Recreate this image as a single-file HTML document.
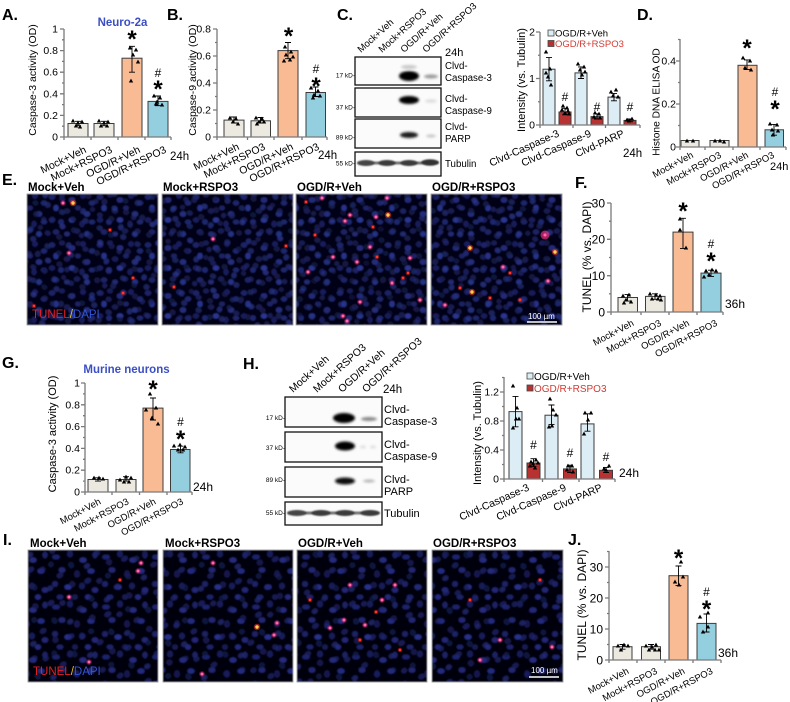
<!DOCTYPE html>
<html><head><meta charset="utf-8">
<style>
html,body{margin:0;padding:0;background:#fff;}
svg{display:block;font-family:"Liberation Sans",Arial,sans-serif;}
</style></head><body>
<svg width="790" height="702" viewBox="0 0 790 702" xmlns="http://www.w3.org/2000/svg" xmlns:xlink="http://www.w3.org/1999/xlink">
<defs>
<path id="t" d="M0,-2.4L2.2,1.5L-2.2,1.5Z" fill="#000"/>
<filter id="bl" x="-50%" y="-100%" width="200%" height="300%"><feGaussianBlur stdDeviation="1.3"/></filter>
<filter id="bs" x="-50%" y="-100%" width="200%" height="300%"><feGaussianBlur stdDeviation="0.7"/></filter>
<filter id="mb" x="0" y="0" width="100%" height="100%"><feGaussianBlur stdDeviation="0.7"/></filter>
<g id="dp"><circle r="2.8" fill="#c8207a" opacity=".55"/><circle r="1.5" fill="#ff6aa0"/></g>
<g id="dr"><circle r="2.3" fill="#d01818" opacity=".6"/><circle r="1.2" fill="#ff3a2a"/></g>
<g id="dy"><circle r="3.2" fill="#e03020" opacity=".65"/><circle r="1.7" fill="#ffd050"/></g>
<pattern id="pE1" width="48" height="48" patternUnits="userSpaceOnUse">
<rect width="48" height="48" fill="#050412"/>
<ellipse cx="4" cy="5" rx="3.2" ry="2.7" fill="#1c2468"/>
<ellipse cx="14" cy="3" rx="2.9" ry="2.5" fill="#161c56"/>
<ellipse cx="24" cy="8" rx="3.3" ry="2.9" fill="#222c78"/>
<ellipse cx="35" cy="4" rx="2.9" ry="2.9" fill="#181f5e"/>
<ellipse cx="44" cy="11" rx="3.1" ry="2.6" fill="#1e266c"/>
<ellipse cx="8" cy="16" rx="2.7" ry="3.2" fill="#26328a"/>
<ellipse cx="19" cy="19" rx="3.2" ry="2.7" fill="#141a50"/>
<ellipse cx="30" cy="16" rx="2.9" ry="2.4" fill="#1c2466"/>
<ellipse cx="39" cy="22" rx="3.2" ry="2.9" fill="#232d7a"/>
<ellipse cx="4" cy="28" rx="3.1" ry="2.7" fill="#181f5c"/>
<ellipse cx="13" cy="30" rx="2.9" ry="2.9" fill="#1f286e"/>
<ellipse cx="24" cy="28" rx="3.2" ry="2.7" fill="#2a3690"/>
<ellipse cx="34" cy="32" rx="2.7" ry="3.2" fill="#171e5a"/>
<ellipse cx="44" cy="30" rx="3.1" ry="2.4" fill="#1e266c"/>
<ellipse cx="8" cy="40" rx="3.2" ry="2.7" fill="#1a2264"/>
<ellipse cx="19" cy="42" rx="2.9" ry="2.4" fill="#202a72"/>
<ellipse cx="29" cy="39" rx="3.1" ry="2.7" fill="#151b52"/>
<ellipse cx="39" cy="42" rx="2.9" ry="2.9" fill="#243084"/>
</pattern>
<pattern id="pE2" width="41" height="37" patternUnits="userSpaceOnUse" patternTransform="rotate(23) translate(7,5)">
<ellipse cx="5" cy="6" rx="2.9" ry="2.5" fill="#1e276c"/>
<ellipse cx="17" cy="5" rx="3" ry="2.7" fill="#161c52"/>
<ellipse cx="29" cy="9" rx="2.7" ry="3" fill="#27348a"/>
<ellipse cx="37" cy="3.5" rx="2.4" ry="2.3" fill="#19205e"/>
<ellipse cx="10" cy="18" rx="3.1" ry="2.6" fill="#202a70"/>
<ellipse cx="23" cy="20" rx="2.9" ry="2.5" fill="#141a4e"/>
<ellipse cx="35" cy="17" rx="3" ry="2.9" fill="#222d78"/>
<ellipse cx="4" cy="29" rx="2.8" ry="3.1" fill="#1b2464"/>
<ellipse cx="16" cy="31" rx="3" ry="2.6" fill="#2a3894"/>
<ellipse cx="28" cy="30" rx="2.9" ry="2.7" fill="#181f58"/>
<ellipse cx="37" cy="32" rx="2.5" ry="2.5" fill="#1f286c"/>
</pattern>
<pattern id="pI1" width="50" height="50" patternUnits="userSpaceOnUse">
<rect width="50" height="50" fill="#040310"/>
<ellipse cx="6" cy="7" rx="3.8" ry="2.4" fill="#1e246c"/>
<ellipse cx="20" cy="4" rx="3" ry="3.4" fill="#171c58"/>
<ellipse cx="33" cy="10" rx="3.6" ry="2.6" fill="#252c7c"/>
<ellipse cx="45" cy="5" rx="2.6" ry="3.2" fill="#1b2064"/>
<ellipse cx="12" cy="20" rx="3.4" ry="2.8" fill="#20266f"/>
<ellipse cx="27" cy="24" rx="2.8" ry="3.6" fill="#151950"/>
<ellipse cx="41" cy="21" rx="3.6" ry="2.6" fill="#232a7e"/>
<ellipse cx="5" cy="34" rx="3" ry="3" fill="#1a2062"/>
<ellipse cx="18" cy="37" rx="3.6" ry="2.6" fill="#283088"/>
<ellipse cx="32" cy="36" rx="3" ry="3.2" fill="#181d56"/>
<ellipse cx="45" cy="40" rx="3.2" ry="2.8" fill="#202874"/>
<ellipse cx="10" cy="47" rx="3.4" ry="2.4" fill="#1c2268"/>
<ellipse cx="25" cy="47" rx="2.8" ry="2.6" fill="#161b52"/>
<ellipse cx="38" cy="47" rx="3" ry="2.6" fill="#242b7c"/>
</pattern>
<pattern id="pI2" width="43" height="39" patternUnits="userSpaceOnUse" patternTransform="rotate(-31) translate(5,9)">
<ellipse cx="8" cy="8" rx="3.4" ry="2.6" fill="#20266f"/>
<ellipse cx="23" cy="5" rx="2.8" ry="3.2" fill="#171c56"/>
<ellipse cx="36" cy="14" rx="3.2" ry="2.6" fill="#252c7e"/>
<ellipse cx="14" cy="22" rx="3" ry="3" fill="#1b2064"/>
<ellipse cx="29" cy="27" rx="3.6" ry="2.6" fill="#222878"/>
<ellipse cx="6" cy="33" rx="2.8" ry="2.8" fill="#151a50"/>
<ellipse cx="39" cy="33" rx="3" ry="2.6" fill="#20266f"/>
</pattern>
</defs>
<rect width="790" height="702" fill="#fff"/>

<!-- ================= PANEL A ================= -->
<text x="2" y="20" font-size="16" font-weight="bold">A.</text>
<text x="122.5" y="26" font-size="11.5" font-weight="bold" fill="#3b4fc4" text-anchor="middle">Neuro-2a</text>
<text transform="translate(33,80) rotate(-90)" text-anchor="middle" dominant-baseline="central" font-size="10.5">Caspase-3 activity (OD)</text>
<g stroke="#3c3c3c" stroke-width="1">
<rect x="68" y="123.5" width="20" height="13.5" fill="#ebe9e0"/>
<rect x="94" y="123.5" width="20" height="13.5" fill="#ebe9e0"/>
<rect x="122" y="58.2" width="20" height="78.8" fill="#f9bb94"/>
<rect x="148" y="101.4" width="20" height="35.6" fill="#94cfdf"/>
</g>
<g stroke="#7a7a7a" stroke-width="1.3" fill="none">
<path d="M64,29V137H171"/>
<path d="M60,137H64M60,115.4H64M60,93.8H64M60,72.2H64M60,50.6H64M60,29H64"/>
<path d="M62,126.2H64M62,104.6H64M62,83H64M62,61.4H64M62,39.8H64"/>
<path d="M64,137V140M91,137V140M118,137V140M145,137V140M171,137V140"/>
</g>
<g text-anchor="end" font-size="10.5">
<text x="58" y="140.5">0</text><text x="58" y="118.9">0.2</text><text x="58" y="97.3">0.4</text><text x="58" y="75.7">0.6</text><text x="58" y="54.1">0.8</text><text x="58" y="32.5">1</text>
</g>
<g stroke="#000" stroke-width="0.9" fill="none">
<path d="M78,125.7V121.3M75,125.7H81M75,121.3H81"/>
<path d="M104,125.7V121.3M101,125.7H107M101,121.3H107"/>
<path d="M132,72.2V46.3M129,72.2H135M129,46.3H135"/>
<path d="M158,105.7V96M155,105.7H161M155,96H161"/>
</g>
<use href="#t" x="73" y="121"/><use href="#t" x="78" y="123"/><use href="#t" x="82" y="122"/><use href="#t" x="76" y="126"/><use href="#t" x="80" y="127"/>
<use href="#t" x="99" y="121"/><use href="#t" x="104" y="123"/><use href="#t" x="108" y="122"/><use href="#t" x="101" y="126"/><use href="#t" x="107" y="126"/>
<use href="#t" x="130" y="48"/><use href="#t" x="136" y="50"/><use href="#t" x="133" y="55"/><use href="#t" x="138" y="62"/><use href="#t" x="131" y="81"/>
<use href="#t" x="154" y="96"/><use href="#t" x="160" y="98"/><use href="#t" x="157" y="102"/><use href="#t" x="162" y="105"/><use href="#t" x="156" y="104"/>
<g text-anchor="middle" font-weight="bold">
<text x="132" y="47" font-size="24">*</text>
<text x="158" y="77" font-size="12" font-weight="normal">#</text>
<text x="158" y="97" font-size="24">*</text>
</g>
<g font-size="10.5" text-anchor="end">
<text transform="translate(87,152) rotate(-26)">Mock+Veh</text>
<text transform="translate(113,152) rotate(-26)">Mock+RSPO3</text>
<text transform="translate(141,152) rotate(-26)">OGD/R+Veh</text>
<text transform="translate(167,152) rotate(-26)">OGD/R+RSPO3</text>
</g>
<text x="170" y="160" font-size="11.5">24h</text>

<!-- ================= PANEL B ================= -->
<text x="167" y="20" font-size="16" font-weight="bold">B.</text>
<text transform="translate(193,80) rotate(-90)" text-anchor="middle" dominant-baseline="central" font-size="10.5">Caspase-9 activity (OD)</text>
<g stroke="#3c3c3c" stroke-width="1">
<rect x="224" y="120.1" width="20" height="16.9" fill="#ebe9e0"/>
<rect x="251" y="120.8" width="19.5" height="16.2" fill="#ebe9e0"/>
<rect x="278" y="50.6" width="20" height="86.4" fill="#f9bb94"/>
<rect x="306" y="92.5" width="19.5" height="44.5" fill="#94cfdf"/>
</g>
<g stroke="#7a7a7a" stroke-width="1.3" fill="none">
<path d="M217,29V137H327"/>
<path d="M213,137H217M213,110H217M213,83H217M213,56H217M213,29H217"/>
<path d="M215,123.5H217M215,96.5H217M215,69.5H217M215,42.5H217"/>
<path d="M217,137V140M247.5,137V140M274,137V140M302,137V140M327,137V140"/>
</g>
<g text-anchor="end" font-size="10.5">
<text x="211" y="140.5">0</text><text x="211" y="113.5">0.2</text><text x="211" y="86.5">0.4</text><text x="211" y="59.5">0.6</text><text x="211" y="32.5">0.8</text>
</g>
<g stroke="#000" stroke-width="0.9" fill="none">
<path d="M234,123V117M231,123H237M231,117H237"/>
<path d="M260.5,123V117.5M257.5,123H263.5M257.5,117.5H263.5"/>
<path d="M288,58.7V42.5M285,58.7H291M285,42.5H291"/>
<path d="M315.5,96.5V87M312.5,96.5H318.5M312.5,87H318.5"/>
</g>
<use href="#t" x="230" y="118"/><use href="#t" x="236" y="119"/><use href="#t" x="233" y="122"/><use href="#t" x="238" y="124"/>
<use href="#t" x="256" y="118"/><use href="#t" x="262" y="119"/><use href="#t" x="259" y="122"/><use href="#t" x="264" y="122"/><use href="#t" x="257" y="124"/>
<use href="#t" x="285" y="47"/><use href="#t" x="291" y="52"/><use href="#t" x="286" y="55"/><use href="#t" x="293" y="57"/><use href="#t" x="290" y="60"/><use href="#t" x="284" y="61"/>
<use href="#t" x="311" y="88"/><use href="#t" x="318" y="91"/><use href="#t" x="314" y="95"/><use href="#t" x="320" y="96"/><use href="#t" x="313" y="98"/>
<g text-anchor="middle" font-weight="bold">
<text x="288.5" y="44" font-size="24">*</text>
<text x="316" y="73" font-size="12" font-weight="normal">#</text>
<text x="316" y="94" font-size="24">*</text>
</g>
<g font-size="10.5" text-anchor="end">
<text transform="translate(240,149) rotate(-26)">Mock+Veh</text>
<text transform="translate(266,149) rotate(-26)">Mock+RSPO3</text>
<text transform="translate(294,149) rotate(-26)">OGD/R+Veh</text>
<text transform="translate(320,149) rotate(-26)">OGD/R+RSPO3</text>
</g>
<text x="318" y="159" font-size="11.5">24h</text>

<!-- ================= PANEL C blot ================= -->
<text x="337" y="20" font-size="16" font-weight="bold">C.</text>
<g font-size="9.5">
<text transform="translate(361,53) rotate(-42)">Mock+Veh</text>
<text transform="translate(382,53) rotate(-42)">Mock+RSPO3</text>
<text transform="translate(404,53) rotate(-42)">OGD/R+Veh</text>
<text transform="translate(426,53) rotate(-42)">OGD/R+RSPO3</text>
</g>
<text x="445" y="56" font-size="11">24h</text>
<g stroke="#111" stroke-width="1.3" fill="#fbfbfb">
<rect x="355" y="57" width="86" height="28"/>
<rect x="355" y="88" width="86" height="29"/>
<rect x="355" y="119" width="86" height="29"/>
<rect x="355" y="152" width="86" height="24"/>
</g>
<g filter="url(#bl)">
<ellipse cx="409" cy="67" rx="8" ry="2" fill="#c8c8c8"/>
<ellipse cx="409" cy="76" rx="10" ry="5" fill="#000"/>
<ellipse cx="431" cy="76.5" rx="7" ry="2" fill="#999"/>
<ellipse cx="409" cy="100" rx="10" ry="4" fill="#000"/>
<ellipse cx="431" cy="101" rx="6" ry="1.8" fill="#ddd"/>
<ellipse cx="409" cy="135" rx="9" ry="3" fill="#1a1a1a"/>
<ellipse cx="431" cy="136" rx="5" ry="1.5" fill="#c4c4c4"/>
</g>
<g filter="url(#bs)">
<rect x="358" y="161.5" width="80" height="3" fill="#777"/>
<ellipse cx="366" cy="163" rx="9" ry="3" fill="#444"/>
<ellipse cx="387" cy="163" rx="9" ry="3" fill="#3a3a3a"/>
<ellipse cx="409" cy="163" rx="9" ry="3" fill="#3a3a3a"/>
<ellipse cx="430" cy="162.5" rx="9" ry="3.2" fill="#333"/>
</g>
<g font-size="9.7">
<text x="445" y="69">Clvd-</text><text x="445" y="81">Caspase-3</text>
<text x="445" y="102">Clvd-</text><text x="445" y="114">Caspase-9</text>
<text x="445" y="130">Clvd-</text><text x="445" y="142">PARP</text>
<text x="445" y="167">Tubulin</text>
</g>
<g font-size="6.5" text-anchor="end">
<text x="355" y="77.5">17 kD-</text>
<text x="355" y="109.5">37 kD-</text>
<text x="355" y="139.5">89 kD-</text>
<text x="355" y="165.5">55 kD-</text>
</g>

<!-- ================= PANEL C chart ================= -->
<text transform="translate(522,80) rotate(-90)" text-anchor="middle" dominant-baseline="central" font-size="11">Intensity (vs. Tubulin)</text>
<g stroke="#3c3c3c" stroke-width="1">
<rect x="543" y="69.2" width="12" height="55.8" fill="#dcedf5"/>
<rect x="559" y="112" width="12" height="13" fill="#b73230"/>
<rect x="575" y="72.9" width="12" height="52.1" fill="#dcedf5"/>
<rect x="591" y="116.6" width="12" height="8.4" fill="#b73230"/>
<rect x="608" y="97.1" width="12" height="27.9" fill="#dcedf5"/>
<rect x="624" y="120.4" width="12" height="4.6" fill="#b73230"/>
</g>
<g stroke="#7a7a7a" stroke-width="1.3" fill="none">
<path d="M540,32V125H640"/>
<path d="M536,125H540M536,78.5H540M536,32H540M538,101.75H540M538,55.25H540"/>
<path d="M540,125V128M573,125V128M605.5,125V128M640,125V128"/>
</g>
<g text-anchor="end" font-size="10.5">
<text x="535" y="128.5">0</text><text x="535" y="82">1</text><text x="535" y="35.5">2</text>
</g>
<g stroke="#000" stroke-width="0.9" fill="none">
<path d="M549,80.8V57.6M546,80.8H552M546,57.6H552"/>
<path d="M565,114.8V108.3M562,114.8H568M562,108.3H568"/>
<path d="M581,78.5V66.9M578,78.5H584M578,66.9H584"/>
<path d="M597,119V113.8M594,119H600M594,113.8H600"/>
<path d="M614,100.8V93.4M611,100.8H617M611,93.4H617"/>
<path d="M630,121.7V119M627,121.7H633M627,119H633"/>
</g>
<use href="#t" x="546" y="52"/><use href="#t" x="550" y="69"/><use href="#t" x="548" y="77"/><use href="#t" x="551" y="85"/><use href="#t" x="546" y="73"/>
<use href="#t" x="563" y="106"/><use href="#t" x="567" y="108"/><use href="#t" x="562" y="110"/><use href="#t" x="568" y="111"/><use href="#t" x="565" y="113"/><use href="#t" x="569" y="114"/>
<use href="#t" x="578" y="64"/><use href="#t" x="584" y="67"/><use href="#t" x="580" y="70"/><use href="#t" x="585" y="72"/><use href="#t" x="582" y="75"/>
<use href="#t" x="595" y="113"/><use href="#t" x="599" y="114"/><use href="#t" x="594" y="117"/><use href="#t" x="600" y="118"/>
<use href="#t" x="611" y="92"/><use href="#t" x="616" y="90"/><use href="#t" x="613" y="96"/><use href="#t" x="618" y="97"/>
<use href="#t" x="627" y="120"/><use href="#t" x="632" y="119"/><use href="#t" x="629" y="121"/>
<g text-anchor="middle" font-size="12">
<text x="565" y="101">#</text><text x="597" y="111">#</text><text x="630" y="111">#</text>
</g>
<rect x="548" y="30" width="6" height="6" fill="#dcedf5" stroke="#444" stroke-width="0.8"/>
<text x="555" y="36.5" font-size="9.5">OGD/R+Veh</text>
<rect x="548" y="40.5" width="6" height="6" fill="#b73230" stroke="#444" stroke-width="0.8"/>
<text x="555" y="47" font-size="9.5" fill="#d23a32">OGD/R+RSPO3</text>
<g font-size="10.5" text-anchor="end">
<text transform="translate(560,136) rotate(-24)">Clvd-Caspase-3</text>
<text transform="translate(592,136) rotate(-24)">Clvd-Caspase-9</text>
<text transform="translate(625,136) rotate(-24)">Clvd-PARP</text>
</g>
<text x="623" y="157" font-size="11.5">24h</text>

<!-- ================= PANEL D ================= -->
<text x="637" y="20" font-size="16" font-weight="bold">D.</text>
<text transform="translate(657,102) rotate(-90)" text-anchor="middle" dominant-baseline="central" font-size="10.2">Histone DNA ELISA OD</text>
<g stroke="#3c3c3c" stroke-width="1">
<rect x="681" y="140.5" width="18" height="6.5" fill="#ebe9e0"/>
<rect x="710" y="140.5" width="19" height="6.5" fill="#ebe9e0"/>
<rect x="738" y="65.3" width="19" height="81.7" fill="#f9bb94"/>
<rect x="765" y="129.8" width="18.5" height="17.2" fill="#94cfdf"/>
</g>
<g stroke="#7a7a7a" stroke-width="1.3" fill="none">
<path d="M680,39V147H786"/>
<path d="M676,147H680M676,104H680M676,61H680M678,125.5H680M678,82.5H680M678,39.5H680"/>
<path d="M680,147V150M705,147V150M733,147V150M760,147V150M786,147V150"/>
</g>
<g text-anchor="end" font-size="10.5">
<text x="676" y="150.5">0</text><text x="676" y="107.5">0.2</text><text x="676" y="64.5">0.4</text>
</g>
<g stroke="#000" stroke-width="0.9" fill="none">
<path d="M747,69.6V59.9M744,69.6H750M744,59.9H750"/>
<path d="M774,135.2V124.4M771,135.2H777M771,124.4H777"/>
</g>
<use href="#t" x="687" y="141"/><use href="#t" x="693" y="141"/>
<use href="#t" x="715" y="141"/><use href="#t" x="720" y="141"/><use href="#t" x="724" y="142"/>
<use href="#t" x="743" y="58"/><use href="#t" x="750" y="61"/><use href="#t" x="745" y="68"/><use href="#t" x="751" y="70"/>
<use href="#t" x="770" y="124"/><use href="#t" x="777" y="125"/><use href="#t" x="772" y="130"/><use href="#t" x="778" y="131"/><use href="#t" x="773" y="135"/>
<g text-anchor="middle" font-weight="bold">
<text x="747" y="56" font-size="24">*</text>
<text x="775" y="96" font-size="12" font-weight="normal">#</text>
<text x="775" y="117" font-size="24">*</text>
</g>
<g font-size="9.5" text-anchor="end">
<text transform="translate(694,157) rotate(-28)">Mock+Veh</text>
<text transform="translate(722,157) rotate(-28)">Mock+RSPO3</text>
<text transform="translate(749,157) rotate(-28)">OGD/R+Veh</text>
<text transform="translate(775,157) rotate(-28)">OGD/R+RSPO3</text>
</g>
<text x="770" y="170" font-size="11">24h</text>

<!-- ================= PANEL E ================= -->
<text x="2" y="185" font-size="16" font-weight="bold">E.</text>
<g font-size="11.5" font-weight="bold">
<text x="28" y="191">Mock+Veh</text>
<text x="163" y="191">Mock+RSPO3</text>
<text x="297" y="191">OGD/R+Veh</text>
<text x="432" y="191">OGD/R+RSPO3</text>
</g>
<g filter="url(#mb)">
<rect x="27" y="194" width="131" height="131" fill="url(#pE1)"/>
<rect x="27" y="194" width="131" height="131" fill="url(#pE2)" opacity=".75"/>
</g>
<g filter="url(#mb)">
<rect x="162" y="194" width="131" height="131" fill="url(#pE1)"/>
<rect x="162" y="194" width="131" height="131" fill="url(#pE2)" opacity=".75"/>
</g>
<g filter="url(#mb)">
<rect x="296" y="194" width="131" height="131" fill="url(#pE1)"/>
<rect x="296" y="194" width="131" height="131" fill="url(#pE2)" opacity=".6"/>
</g>
<g filter="url(#mb)">
<rect x="431" y="194" width="131" height="131" fill="url(#pE1)"/>
<rect x="431" y="194" width="131" height="131" fill="url(#pE2)" opacity=".75"/>
</g>
<g>
<use href="#dp" x="63" y="203"/><use href="#dy" x="73" y="203"/><use href="#dp" x="69" y="253"/><use href="#dr" x="133" y="278"/><use href="#dr" x="123" y="293"/><use href="#dr" x="34" y="306"/><use href="#dr" x="110" y="230"/>
<use href="#dp" x="213" y="239"/><use href="#dr" x="174" y="287"/><use href="#dr" x="286" y="246"/>
<use href="#dp" x="322" y="198"/><use href="#dr" x="306" y="202"/><use href="#dp" x="387" y="198"/><use href="#dp" x="350" y="215"/><use href="#dy" x="388" y="215"/><use href="#dr" x="373" y="227"/><use href="#dp" x="376" y="217"/><use href="#dp" x="345" y="221"/><use href="#dp" x="370" y="247"/><use href="#dp" x="333" y="257"/><use href="#dp" x="410" y="258"/><use href="#dr" x="403" y="278"/><use href="#dp" x="357" y="262"/><use href="#dp" x="308" y="272"/><use href="#dp" x="392" y="283"/><use href="#dr" x="408" y="273"/><use href="#dp" x="360" y="302"/><use href="#dp" x="347" y="321"/><use href="#dr" x="377" y="257"/><use href="#dp" x="343" y="316"/><use href="#dr" x="315" y="235"/><use href="#dp" x="420" y="300"/>
<circle cx="545" cy="235" r="4.5" fill="#e0307a" opacity=".7"/><use href="#dp" x="545" y="235"/>
<use href="#dy" x="470" y="248"/><use href="#dy" x="555" y="252"/><use href="#dr" x="510" y="273"/><use href="#dp" x="503" y="267"/><use href="#dp" x="548" y="281"/><use href="#dr" x="460" y="288"/><use href="#dy" x="472" y="292"/><use href="#dr" x="490" y="298"/><use href="#dp" x="445" y="305"/><use href="#dr" x="520" y="300"/>
</g>
<g fill="none" stroke="#8a8a8a" stroke-width="0.8">
<rect x="27" y="194" width="131" height="131"/><rect x="162" y="194" width="131" height="131"/><rect x="296" y="194" width="131" height="131"/><rect x="431" y="194" width="131" height="131"/>
</g>
<text x="32" y="318" font-size="11.5"><tspan fill="#e02020">TUNEL</tspan><tspan fill="#e0c020">/</tspan><tspan fill="#3454d4">DAPI</tspan></text>
<text x="528" y="319" font-size="8" fill="#fff">100 µm</text>
<path d="M527,322H557" stroke="#fff" stroke-width="1.5"/>

<!-- ================= PANEL F ================= -->
<text x="575" y="188" font-size="16" font-weight="bold">F.</text>
<text transform="translate(587,257) rotate(-90)" text-anchor="middle" dominant-baseline="central" font-size="12">TUNEL (% vs. DAPI)</text>
<g stroke="#3c3c3c" stroke-width="1">
<rect x="618" y="297.5" width="19.5" height="14.5" fill="#ebe9e0"/>
<rect x="645.5" y="296.4" width="19.5" height="15.6" fill="#ebe9e0"/>
<rect x="673" y="232.1" width="20" height="79.9" fill="#f9bb94"/>
<rect x="701" y="273.1" width="20" height="38.9" fill="#94cfdf"/>
</g>
<g stroke="#7a7a7a" stroke-width="1.3" fill="none">
<path d="M611,203V312H723"/>
<path d="M607,312H611M607,275.7H611M607,239.3H611M607,203H611M609,293.8H611M609,257.5H611M609,221.2H611"/>
<path d="M611,312V315M641,312V315M669,312V315M697,312V315M723,312V315"/>
</g>
<g text-anchor="end" font-size="12">
<text x="605" y="316.3">0</text><text x="605" y="280">10</text><text x="605" y="243.6">20</text><text x="605" y="207.3">30</text>
</g>
<g stroke="#000" stroke-width="0.9" fill="none">
<path d="M627.5,301.1V294.6M624.5,301.1H630.5M624.5,294.6H630.5"/>
<path d="M655,299.3V293.8M652,299.3H658M652,293.8H658"/>
<path d="M683,248.4V218.3M680,248.4H686M680,218.3H686"/>
<path d="M711,276.4V270.2M708,276.4H714M708,270.2H714"/>
</g>
<use href="#t" x="623" y="296"/><use href="#t" x="629" y="295"/><use href="#t" x="626" y="300"/><use href="#t" x="631" y="302"/><use href="#t" x="624" y="303"/>
<use href="#t" x="650" y="294"/><use href="#t" x="656" y="295"/><use href="#t" x="660" y="296"/><use href="#t" x="652" y="299"/><use href="#t" x="658" y="299"/><use href="#t" x="661" y="300"/>
<use href="#t" x="680" y="219"/><use href="#t" x="680" y="230"/><use href="#t" x="686" y="248"/>
<use href="#t" x="706" y="271"/><use href="#t" x="712" y="270"/><use href="#t" x="716" y="271"/><use href="#t" x="709" y="275"/><use href="#t" x="704" y="277"/>
<g text-anchor="middle" font-weight="bold">
<text x="683" y="219" font-size="24">*</text>
<text x="711" y="248" font-size="12" font-weight="normal">#</text>
<text x="711" y="269" font-size="24">*</text>
</g>
<g font-size="9.5" text-anchor="end">
<text transform="translate(634.5,325) rotate(-28)">Mock+Veh</text>
<text transform="translate(662,325) rotate(-28)">Mock+RSPO3</text>
<text transform="translate(690,325) rotate(-28)">OGD/R+Veh</text>
<text transform="translate(718,325) rotate(-28)">OGD/R+RSPO3</text>
</g>
<text x="725" y="308" font-size="12">36h</text>

<!-- ================= PANEL G ================= -->
<text x="2" y="368" font-size="16" font-weight="bold">G.</text>
<text x="126.5" y="373" font-size="11.5" font-weight="bold" fill="#3b4fc4" text-anchor="middle">Murine neurons</text>
<text transform="translate(53,434) rotate(-90)" text-anchor="middle" dominant-baseline="central" font-size="11">Caspase-3 activity (OD)</text>
<g stroke="#3c3c3c" stroke-width="1">
<rect x="88" y="479.5" width="20" height="12.5" fill="#ebe9e0"/>
<rect x="116" y="479.5" width="20" height="12.5" fill="#ebe9e0"/>
<rect x="143" y="408.1" width="20" height="83.9" fill="#f9bb94"/>
<rect x="170.5" y="449.5" width="19.5" height="42.5" fill="#94cfdf"/>
</g>
<g stroke="#7a7a7a" stroke-width="1.3" fill="none">
<path d="M85,383V492H192"/>
<path d="M81,492H85M81,470.2H85M81,448.4H85M81,426.6H85M81,404.8H85M81,383H85"/>
<path d="M83,481.1H85M83,459.3H85M83,437.5H85M83,415.7H85M83,393.9H85"/>
<path d="M85,492V495M112,492V495M139.5,492V495M167,492V495M192,492V495"/>
</g>
<g text-anchor="end" font-size="10.5">
<text x="80" y="495.5">0</text><text x="80" y="473.7">0.2</text><text x="80" y="451.9">0.4</text><text x="80" y="430.1">0.6</text><text x="80" y="408.3">0.8</text><text x="80" y="386.5">1</text>
</g>
<g stroke="#000" stroke-width="0.9" fill="none">
<path d="M98,481.1V477.8M95,481.1H101M95,477.8H101"/>
<path d="M126,481.1V476.7M123,481.1H129M123,476.7H129"/>
<path d="M153,420V398M150,420H156M150,398H156"/>
<path d="M180.5,452.8V446.2M177.5,452.8H183.5M177.5,446.2H183.5"/>
</g>
<use href="#t" x="94" y="478"/><use href="#t" x="99" y="478"/><use href="#t" x="103" y="479"/>
<use href="#t" x="120" y="480"/><use href="#t" x="126" y="477"/><use href="#t" x="131" y="478"/><use href="#t" x="124" y="482"/><use href="#t" x="129" y="482"/>
<use href="#t" x="150" y="394"/><use href="#t" x="146" y="410"/><use href="#t" x="156" y="408"/><use href="#t" x="152" y="418"/><use href="#t" x="158" y="424"/>
<use href="#t" x="174" y="446"/><use href="#t" x="180" y="445"/><use href="#t" x="185" y="447"/><use href="#t" x="178" y="450"/><use href="#t" x="183" y="450"/>
<g text-anchor="middle" font-weight="bold">
<text x="153" y="397" font-size="24">*</text>
<text x="180.5" y="426" font-size="12" font-weight="normal">#</text>
<text x="180.5" y="447" font-size="24">*</text>
</g>
<g font-size="9.5" text-anchor="end">
<text transform="translate(101.5,503.5) rotate(-28)">Mock+Veh</text>
<text transform="translate(129.5,503.5) rotate(-28)">Mock+RSPO3</text>
<text transform="translate(156.5,503.5) rotate(-28)">OGD/R+Veh</text>
<text transform="translate(184,503.5) rotate(-28)">OGD/R+RSPO3</text>
</g>
<text x="193" y="491" font-size="12">24h</text>

<!-- ================= PANEL H blot ================= -->
<text x="243" y="369" font-size="16" font-weight="bold">H.</text>
<g font-size="10.5">
<text transform="translate(293,393) rotate(-42)">Mock+Veh</text>
<text transform="translate(317,393) rotate(-42)">Mock+RSPO3</text>
<text transform="translate(342,393) rotate(-42)">OGD/R+Veh</text>
<text transform="translate(366,393) rotate(-42)">OGD/R+RSPO3</text>
</g>
<text x="383" y="393" font-size="11.5">24h</text>
<g stroke="#111" stroke-width="1.3" fill="#fbfbfb">
<rect x="285" y="397" width="97" height="30"/>
<rect x="285" y="432" width="97" height="30"/>
<rect x="285" y="467" width="97" height="30"/>
<rect x="285" y="502" width="97" height="23"/>
</g>
<g filter="url(#bl)">
<ellipse cx="344" cy="418" rx="11" ry="5" fill="#000"/>
<ellipse cx="369" cy="419" rx="8" ry="2" fill="#888"/>
<ellipse cx="345" cy="446" rx="10" ry="4.5" fill="#000"/>
<ellipse cx="363" cy="447" rx="3" ry="1.5" fill="#ddd"/>
<ellipse cx="373" cy="447" rx="3" ry="1.5" fill="#ddd"/>
<ellipse cx="345" cy="481" rx="10" ry="3.5" fill="#111"/>
<ellipse cx="369" cy="481" rx="6" ry="1.5" fill="#b4b4b4"/>
</g>
<g filter="url(#bs)">
<rect x="288" y="511.5" width="91" height="3" fill="#777"/>
<ellipse cx="297" cy="513" rx="10" ry="3" fill="#444"/>
<ellipse cx="321" cy="513" rx="10" ry="3" fill="#3a3a3a"/>
<ellipse cx="345" cy="513" rx="10" ry="3" fill="#3a3a3a"/>
<ellipse cx="370" cy="513" rx="10" ry="3" fill="#3a3a3a"/>
</g>
<g font-size="11">
<text x="384" y="413">Clvd-</text><text x="384" y="425">Caspase-3</text>
<text x="384" y="448">Clvd-</text><text x="384" y="460">Caspase-9</text>
<text x="384" y="483">Clvd-</text><text x="384" y="495">PARP</text>
<text x="384" y="517">Tubulin</text>
</g>
<g font-size="6.5" text-anchor="end">
<text x="285" y="420">17 kD-</text>
<text x="285" y="450">37 kD-</text>
<text x="285" y="482">89 kD-</text>
<text x="285" y="515">55 kD-</text>
</g>

<!-- ================= PANEL H chart ================= -->
<text transform="translate(478,433) rotate(-90)" text-anchor="middle" dominant-baseline="central" font-size="11">Intensity (vs. Tubulin)</text>
<g stroke="#3c3c3c" stroke-width="1">
<rect x="509" y="411.6" width="13" height="67.4" fill="#dcedf5"/>
<rect x="527" y="463" width="13" height="16" fill="#b73230"/>
<rect x="545" y="415.2" width="13" height="63.8" fill="#dcedf5"/>
<rect x="563.5" y="468.9" width="13" height="10.1" fill="#b73230"/>
<rect x="581" y="423.9" width="13" height="55.1" fill="#dcedf5"/>
<rect x="599.5" y="470.3" width="13" height="8.7" fill="#b73230"/>
</g>
<g stroke="#7a7a7a" stroke-width="1.3" fill="none">
<path d="M504,377V479H615"/>
<path d="M500,479H504M500,450H504M500,421H504M500,392H504M502,464.5H504M502,435.5H504M502,406.5H504M502,377.5H504"/>
<path d="M504,479V482M542.5,479V482M579,479V482M615,479V482"/>
</g>
<g text-anchor="end" font-size="10.5">
<text x="499" y="482.5">0</text><text x="499" y="453.5">0.4</text><text x="499" y="424.5">0.8</text><text x="499" y="395.5">1.2</text>
</g>
<g stroke="#000" stroke-width="0.9" fill="none">
<path d="M515.5,426.8V396.4M512.5,426.8H518.5M512.5,396.4H518.5"/>
<path d="M533.5,466.7V458.7M530.5,466.7H536.5M530.5,458.7H536.5"/>
<path d="M551.5,424.6V405M548.5,424.6H554.5M548.5,405H554.5"/>
<path d="M570,472.5V465.2M567,472.5H573M567,465.2H573"/>
<path d="M587.5,431.2V413.8M584.5,431.2H590.5M584.5,413.8H590.5"/>
<path d="M606,472.5V467.4M603,472.5H609M603,467.4H609"/>
</g>
<use href="#t" x="513" y="386"/><use href="#t" x="517" y="408"/><use href="#t" x="516" y="419"/><use href="#t" x="513" y="428"/><use href="#t" x="519" y="419"/>
<use href="#t" x="531" y="462"/><use href="#t" x="536" y="460"/><use href="#t" x="533" y="464"/><use href="#t" x="538" y="463"/><use href="#t" x="530" y="466"/><use href="#t" x="535" y="468"/>
<use href="#t" x="550" y="399"/><use href="#t" x="553" y="410"/><use href="#t" x="556" y="415"/><use href="#t" x="549" y="427"/><use href="#t" x="552" y="426"/>
<use href="#t" x="568" y="466"/><use href="#t" x="572" y="466"/><use href="#t" x="567" y="470"/><use href="#t" x="573" y="472"/>
<use href="#t" x="585" y="413"/><use href="#t" x="591" y="413"/><use href="#t" x="588" y="420"/><use href="#t" x="584" y="434"/>
<use href="#t" x="604" y="469"/><use href="#t" x="609" y="466"/><use href="#t" x="606" y="470"/>
<g text-anchor="middle" font-size="12">
<text x="533.5" y="449">#</text><text x="570" y="457">#</text><text x="606" y="461">#</text>
</g>
<rect x="527" y="373" width="6" height="6" fill="#dcedf5" stroke="#444" stroke-width="0.8"/>
<text x="534" y="380" font-size="10">OGD/R+Veh</text>
<rect x="527" y="385" width="6" height="6" fill="#b73230" stroke="#444" stroke-width="0.8"/>
<text x="534" y="392" font-size="10" fill="#d23a32">OGD/R+RSPO3</text>
<g font-size="10.5" text-anchor="end">
<text transform="translate(530,490) rotate(-24)">Clvd-Caspase-3</text>
<text transform="translate(567,490) rotate(-24)">Clvd-Caspase-9</text>
<text transform="translate(603,490) rotate(-24)">Clvd-PARP</text>
</g>
<text x="619" y="477" font-size="12">24h</text>

<!-- ================= PANEL I ================= -->
<text x="3" y="545" font-size="16" font-weight="bold">I.</text>
<g font-size="11.5" font-weight="bold">
<text x="30" y="547">Mock+Veh</text>
<text x="165" y="547">Mock+RSPO3</text>
<text x="298" y="547">OGD/R+Veh</text>
<text x="433" y="547">OGD/R+RSPO3</text>
</g>
<g filter="url(#mb)">
<rect x="28" y="550" width="130" height="132" fill="url(#pI1)"/>
<rect x="28" y="550" width="130" height="132" fill="url(#pI2)" opacity=".7"/>
</g>
<g filter="url(#mb)">
<rect x="163" y="550" width="130" height="132" fill="url(#pI1)"/>
<rect x="163" y="550" width="130" height="132" fill="url(#pI2)" opacity=".7"/>
</g>
<g filter="url(#mb)">
<rect x="297" y="550" width="130" height="132" fill="url(#pI1)"/>
<rect x="297" y="550" width="130" height="132" fill="url(#pI2)" opacity=".7"/>
</g>
<g filter="url(#mb)">
<rect x="432" y="550" width="131" height="132" fill="url(#pI1)"/>
<rect x="432" y="550" width="131" height="132" fill="url(#pI2)" opacity=".7"/>
</g>
<g>
<use href="#dp" x="138" y="571"/><use href="#dp" x="141" y="563"/><use href="#dp" x="69" y="597"/><use href="#dp" x="89" y="662"/><use href="#dr" x="120" y="580"/>
<use href="#dp" x="213" y="563"/><use href="#dy" x="257" y="627"/><use href="#dp" x="277" y="623"/><use href="#dp" x="274" y="635"/><use href="#dp" x="202" y="674"/>
<use href="#dp" x="382" y="600"/><use href="#dr" x="376" y="612"/><use href="#dp" x="344" y="620"/><use href="#dr" x="360" y="640"/><use href="#dp" x="330" y="628"/><use href="#dp" x="395" y="585"/><use href="#dr" x="310" y="600"/><use href="#dp" x="350" y="585"/><use href="#dr" x="400" y="650"/><use href="#dp" x="365" y="625"/>
<use href="#dp" x="552" y="647"/><use href="#dr" x="470" y="600"/><use href="#dp" x="500" y="640"/><use href="#dr" x="540" y="580"/><use href="#dp" x="480" y="660"/>
</g>
<g fill="none" stroke="#8a8a8a" stroke-width="0.8">
<rect x="28" y="550" width="130" height="132"/><rect x="163" y="550" width="130" height="132"/><rect x="297" y="550" width="130" height="132"/><rect x="432" y="550" width="131" height="132"/>
</g>
<text x="33" y="675" font-size="11.5"><tspan fill="#e02020">TUNEL</tspan><tspan fill="#e0c020">/</tspan><tspan fill="#3454d4">DAPI</tspan></text>
<text x="531" y="673" font-size="8" fill="#fff">100 µm</text>
<path d="M529,677H559" stroke="#fff" stroke-width="1.5"/>

<!-- ================= PANEL J ================= -->
<text x="568" y="545" font-size="16" font-weight="bold">J.</text>
<text transform="translate(582,605) rotate(-90)" text-anchor="middle" dominant-baseline="central" font-size="12">TUNEL (% vs. DAPI)</text>
<g stroke="#3c3c3c" stroke-width="1">
<rect x="613" y="646.7" width="19" height="13.3" fill="#ebe9e0"/>
<rect x="641.5" y="646.7" width="19" height="13.3" fill="#ebe9e0"/>
<rect x="669" y="575.7" width="19" height="84.3" fill="#f9bb94"/>
<rect x="697" y="623.4" width="19" height="36.6" fill="#94cfdf"/>
</g>
<g stroke="#7a7a7a" stroke-width="1.3" fill="none">
<path d="M609,551V660H721"/>
<path d="M605,660H609M605,629H609M605,598H609M605,567H609M607,644.5H609M607,613.5H609M607,582.5H609M607,551.5H609"/>
<path d="M609,660V663M637,660V663M665,660V663M693,660V663M721,660V663"/>
</g>
<g text-anchor="end" font-size="12">
<text x="603" y="664.3">0</text><text x="603" y="633.3">10</text><text x="603" y="602.3">20</text><text x="603" y="571.3">30</text>
</g>
<g stroke="#000" stroke-width="0.9" fill="none">
<path d="M622.5,649.2V644.5M619.5,649.2H625.5M619.5,644.5H625.5"/>
<path d="M651,649.2V644.5M648,649.2H654M648,644.5H654"/>
<path d="M678.5,585.6V566M675.5,585.6H681.5M675.5,566H681.5"/>
<path d="M706.5,632V614M703.5,632H709.5M703.5,614H709.5"/>
</g>
<use href="#t" x="618" y="646"/><use href="#t" x="624" y="645"/><use href="#t" x="628" y="646"/><use href="#t" x="621" y="650"/>
<use href="#t" x="646" y="646"/><use href="#t" x="652" y="647"/><use href="#t" x="656" y="645"/><use href="#t" x="649" y="650"/><use href="#t" x="655" y="650"/><use href="#t" x="659" y="650"/>
<use href="#t" x="681" y="562"/><use href="#t" x="675" y="582"/><use href="#t" x="679" y="585"/><use href="#t" x="683" y="577"/>
<use href="#t" x="700" y="617"/><use href="#t" x="708" y="613"/><use href="#t" x="703" y="632"/><use href="#t" x="708" y="627"/>
<g text-anchor="middle" font-weight="bold">
<text x="678.5" y="566" font-size="24">*</text>
<text x="706.5" y="596" font-size="12" font-weight="normal">#</text>
<text x="706.5" y="617" font-size="24">*</text>
</g>
<g font-size="9.5" text-anchor="end">
<text transform="translate(629.5,673) rotate(-28)">Mock+Veh</text>
<text transform="translate(658,673) rotate(-28)">Mock+RSPO3</text>
<text transform="translate(685.5,673) rotate(-28)">OGD/R+Veh</text>
<text transform="translate(713.5,673) rotate(-28)">OGD/R+RSPO3</text>
</g>
<text x="718" y="657" font-size="12">36h</text>
</svg>
</body></html>
